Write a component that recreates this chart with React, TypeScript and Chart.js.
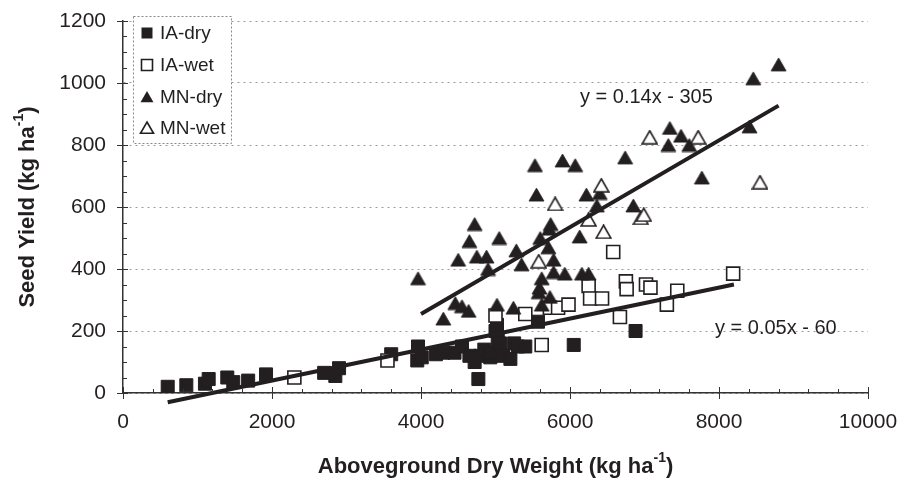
import React, { useEffect, useRef } from 'react';
import { Chart, registerables } from 'chart.js';

Chart.register(...registerables);

// ---------- data ----------
const iaDryX = [600, 850, 1100, 1150, 1400, 1480, 1680, 1920, 2700, 2850, 2900, 3600, 3960, 3950, 4010, 4200, 4300, 4450, 4550, 4650, 4720, 4770, 4800, 4850, 4930, 4950, 5000, 5020, 5030, 5060, 5100, 5200, 5250, 5300, 5400, 5570, 6050, 6880];
const iaDryY = [20, 25, 30, 45, 50, 35, 40, 60, 65, 55, 80, 125, 150, 105, 115, 125, 130, 130, 150, 120, 100, 45, 120, 140, 115, 130, 200, 220, 170, 160, 120, 110, 160, 150, 150, 230, 155, 200];

const iaWetX = [2300, 3550, 5000, 5400, 5620, 5730, 5840, 5980, 6250, 6270, 6430, 6580, 6670, 6750, 6760, 7020, 7080, 7300, 7440, 8190];
const iaWetY = [50, 105, 250, 255, 155, 275, 275, 285, 345, 305, 305, 455, 245, 360, 335, 350, 340, 285, 330, 385];

const mnDryX = [3960, 4300, 4460, 4500, 4550, 4640, 4650, 4720, 4750, 4880, 4900, 5020, 5050, 5240, 5280, 5350, 5530, 5550, 5580, 5590, 5600, 5620, 5620, 5710, 5720, 5730, 5740, 5780, 5780, 5900, 5930, 6070, 6130, 6160, 6220, 6250, 6360, 6400, 6740, 6850, 7320, 7340, 7490, 7600, 7770, 8410, 8460, 8800];
const mnDryY = [370, 240, 290, 430, 280, 265, 490, 545, 440, 440, 400, 285, 500, 275, 460, 415, 735, 640, 325, 340, 500, 370, 285, 470, 530, 310, 545, 430, 390, 750, 385, 735, 505, 385, 640, 385, 605, 645, 760, 605, 800, 855, 830, 800, 695, 860, 1015, 1060];

const mnWetX = [5580, 5800, 6250, 6420, 6450, 6950, 6990, 7070, 7720, 8550];
const mnWetY = [425, 610, 560, 670, 520, 565, 575, 825, 825, 680];

// trend lines (end points)
const trendMnX = [4000, 8800];
const trendMnY = [255, 927];
const trendIaX = [600, 8200];
const trendIaY = [-30, 350];

const xTickValues = [0, 2000, 4000, 6000, 8000, 10000];
const yTickValues = [0, 200, 400, 600, 800, 1000, 1200];

const seriesLabels = ['IA-dry', 'IA-wet', 'MN-dry', 'MN-wet'];
const equationMn = 'y = 0.14x - 305';
const equationIa = 'y = 0.05x - 60';
const xTitle = ['Aboveground Dry Weight (kg ha', '-1', ')'];
const yTitle = ['Seed Yield (kg ha', '-1', ')'];

// ---------- styling ----------
const FONT = '"Liberation Sans", Arial, Helvetica, sans-serif';
const INK = '#231f20';

const pts = (xs: number[], ys: number[]) => xs.map((x, i) => ({ x, y: ys[i] }));

function drawSquare(ctx: CanvasRenderingContext2D, x: number, y: number, s: number, filled: boolean) {
  ctx.beginPath();
  ctx.rect(x - s / 2, y - s / 2, s, s);
  if (filled) {
    ctx.fillStyle = INK;
    ctx.fill();
  } else {
    ctx.fillStyle = '#fff';
    ctx.fill();
    ctx.lineWidth = 1.6;
    ctx.strokeStyle = INK;
    ctx.stroke();
  }
}

function drawTriangle(ctx: CanvasRenderingContext2D, x: number, y: number, r: number, filled: boolean) {
  ctx.beginPath();
  let a = 0;
  for (let i = 0; i < 3; i++) {
    const px = x + Math.sin(a) * r;
    const py = y - Math.cos(a) * r;
    if (i === 0) ctx.moveTo(px, py);
    else ctx.lineTo(px, py);
    a += (2 * Math.PI) / 3;
  }
  ctx.closePath();
  if (filled) {
    ctx.fillStyle = INK;
    ctx.fill();
  } else {
    ctx.fillStyle = '#fff';
    ctx.fill();
    ctx.lineWidth = 1.6;
    ctx.strokeStyle = INK;
    ctx.stroke();
  }
}

// triangle marker image centred on its bounding box (like the original)
function makeTriangleMarker(filled: boolean): HTMLCanvasElement {
  const c = document.createElement('canvas');
  c.width = 17;
  c.height = 15;
  const g = c.getContext('2d') as CanvasRenderingContext2D;
  g.beginPath();
  g.moveTo(8.5, 1);
  g.lineTo(16, 14);
  g.lineTo(1, 14);
  g.closePath();
  if (filled) {
    g.fillStyle = INK;
    g.fill();
    g.lineWidth = 0.8;
    g.strokeStyle = INK;
    g.stroke();
  } else {
    g.fillStyle = '#fff';
    g.fill();
    g.lineWidth = 1.6;
    g.strokeStyle = INK;
    g.stroke();
  }
  return c;
}

function drawSupText(
  ctx: CanvasRenderingContext2D,
  parts: string[],
  cx: number,
  cy: number,
  size: number,
  rotate: boolean
) {
  ctx.save();
  ctx.translate(cx, cy);
  if (rotate) ctx.rotate(-Math.PI / 2);
  const fMain = `bold ${size}px ${FONT}`;
  const fSup = `bold ${Math.round(size * 0.62)}px ${FONT}`;
  ctx.font = fMain;
  const w1 = ctx.measureText(parts[0]).width;
  const w3 = ctx.measureText(parts[2]).width;
  ctx.font = fSup;
  const w2 = ctx.measureText(parts[1]).width;
  let x = -(w1 + w2 + w3) / 2;
  ctx.fillStyle = INK;
  ctx.textAlign = 'left';
  ctx.textBaseline = 'middle';
  ctx.font = fMain;
  ctx.fillText(parts[0], x, 0);
  x += w1;
  ctx.font = fSup;
  ctx.fillText(parts[1], x, -size * 0.38);
  x += w2;
  ctx.font = fMain;
  ctx.fillText(parts[2], x, 0);
  ctx.restore();
}

const overlay = {
  id: 'overlay',
  afterDraw(chart: any) {
    const ctx: CanvasRenderingContext2D = chart.ctx;
    const { left, top, bottom } = chart.chartArea;
    const xs = chart.scales.x;
    const ys = chart.scales.y;
    ctx.save();

    // tick marks
    ctx.strokeStyle = '#333';
    ctx.lineWidth = 1;
    for (let v = 0; v <= 10000; v += 400) {
      const px = Math.round(xs.getPixelForValue(v)) + 0.5;
      const major = v % 2000 === 0;
      ctx.beginPath();
      ctx.moveTo(px, major ? bottom - 6 : bottom - 4);
      ctx.lineTo(px, major ? bottom + 6 : bottom);
      ctx.stroke();
    }
    for (let v = 0; v <= 1200; v += 50) {
      const py = Math.round(ys.getPixelForValue(v)) + 0.5;
      const major = v % 200 === 0;
      ctx.beginPath();
      ctx.moveTo(major ? left - 6 : left, py);
      ctx.lineTo(major ? left + 5 : left + 4, py);
      ctx.stroke();
    }

    // legend
    const lx = 133, ly = 16, lw = 98, lh = 127;
    ctx.fillStyle = '#fff';
    ctx.fillRect(lx, ly, lw, lh);
    ctx.setLineDash([2, 2]);
    ctx.strokeStyle = '#888';
    ctx.lineWidth = 1;
    ctx.strokeRect(lx + 0.5, ly + 0.5, lw, lh);
    ctx.setLineDash([]);
    const rowY = [33, 65, 97, 128];
    drawSquare(ctx, 147, rowY[0], 11, true);
    drawSquare(ctx, 147, rowY[1], 11, false);
    drawTriangle(ctx, 147, rowY[2] + 1.5, 7.5, true);
    drawTriangle(ctx, 147, rowY[3] + 1.5, 7.5, false);
    ctx.fillStyle = INK;
    ctx.font = `19px ${FONT}`;
    ctx.textAlign = 'left';
    ctx.textBaseline = 'middle';
    seriesLabels.forEach((t, i) => ctx.fillText(t, 160, rowY[i] + 1));

    // equations
    ctx.font = `20px ${FONT}`;
    ctx.fillText(equationMn, 580, 97);
    ctx.fillText(equationIa, 715, 328);

    // axis titles
    drawSupText(ctx, xTitle, (xs.left + xs.right) / 2, 467, 22, false);
    drawSupText(ctx, yTitle, 28, (top + bottom) / 2, 22, true);

    ctx.restore();
  },
};

export default function App() {
  const ref = useRef<HTMLCanvasElement | null>(null);

  useEffect(() => {
    const canvas = ref.current;
    if (!canvas) return;
    const triFilled = makeTriangleMarker(true);
    const triOpen = makeTriangleMarker(false);
    const chart = new Chart(canvas, {
      type: 'scatter',
      data: {
        datasets: [
          {
            label: 'MN trend',
            data: pts(trendMnX, trendMnY),
            showLine: true,
            pointRadius: 0,
            borderColor: INK,
            borderWidth: 4,
            order: 0,
            clip: false,
          } as any,
          {
            label: 'IA trend',
            data: pts(trendIaX, trendIaY),
            showLine: true,
            pointRadius: 0,
            borderColor: INK,
            borderWidth: 4,
            order: 0,
            clip: false,
          } as any,
          {
            label: seriesLabels[3],
            data: pts(mnWetX, mnWetY),
            pointStyle: triOpen,
            pointRadius: 8.7,
            backgroundColor: '#fff',
            borderColor: INK,
            borderWidth: 1.6,
            order: 1,
          },
          {
            label: seriesLabels[2],
            data: pts(mnDryX, mnDryY),
            pointStyle: triFilled,
            pointRadius: 8.7,
            backgroundColor: INK,
            borderColor: INK,
            borderWidth: 1,
            order: 2,
          },
          {
            label: seriesLabels[1],
            data: pts(iaWetX, iaWetY),
            pointStyle: 'rect',
            pointRadius: 9.2,
            backgroundColor: '#fff',
            borderColor: INK,
            borderWidth: 1.6,
            order: 3,
          },
          {
            label: seriesLabels[0],
            data: pts(iaDryX, iaDryY),
            pointStyle: 'rect',
            pointRadius: 9.2,
            backgroundColor: INK,
            borderColor: INK,
            borderWidth: 1,
            order: 4,
          },
        ],
      },
      options: {
        animation: false,
        responsive: false,
        events: [],
        layout: { padding: { top: 21, right: 35, left: 0, bottom: 0 } },
        plugins: {
          legend: { display: false },
          tooltip: { enabled: false },
          title: { display: false },
        },
        scales: {
          x: {
            type: 'linear',
            min: 0,
            max: 10000,
            afterBuildTicks: (s: any) => {
              s.ticks = xTickValues.map((v) => ({ value: v }));
            },
            afterFit: (s: any) => {
              s.height = 89;
              s.paddingLeft = 0;
              s.paddingRight = 0;
            },
            grid: { display: true, drawOnChartArea: false, drawTicks: false },
            border: { display: true, color: '#333', width: 1.5 },
            ticks: {
              padding: 17,
              color: INK,
              font: { family: FONT, size: 21 },
              maxRotation: 0,
              callback: (v: any) => String(v),
            },
          },
          y: {
            type: 'linear',
            min: 0,
            max: 1200,
            afterBuildTicks: (s: any) => {
              s.ticks = yTickValues.map((v) => ({ value: v }));
            },
            afterFit: (s: any) => {
              s.width = 123;
              s.paddingTop = 0;
              s.paddingBottom = 0;
            },
            grid: { color: '#9a9a9a', lineWidth: 1, drawTicks: false },
            border: { display: true, color: '#333', width: 1.5, dash: [2, 4] },
            ticks: {
              padding: 17,
              color: INK,
              font: { family: FONT, size: 21 },
              callback: (v: any) => String(v),
            },
          },
        },
      } as any,
      plugins: [overlay],
    });
    return () => chart.destroy();
  }, []);

  return (
    <div style={{ position: 'absolute', left: 0, top: 0, width: 903, height: 482, background: '#fff' }}>
      <canvas ref={ref} width={903} height={482} style={{ display: 'block' }} />
    </div>
  );
}
